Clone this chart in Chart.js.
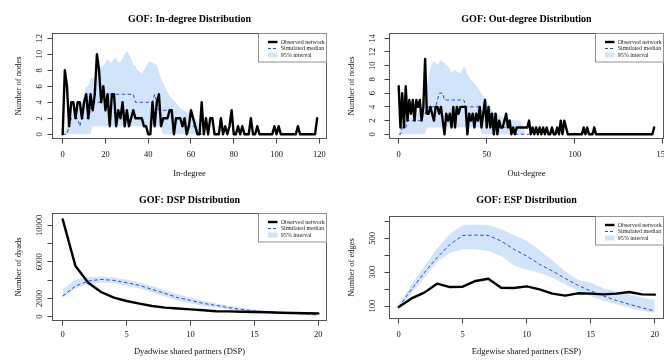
<!DOCTYPE html>
<html>
<head>
<meta charset="utf-8">
<script src="https://cdn.jsdelivr.net/npm/chart.js@4.4.1/dist/chart.umd.min.js"></script>
<style>
  body { margin: 0; background: #fff; }
  .panel { position: absolute; width: 332px; height: 181px; }
</style>
</head>
<body>
<div class="panel" style="left:0;top:0"><canvas id="inDegreeChart" width="332" height="181"></canvas></div>
<div class="panel" style="left:332px;top:0"><canvas id="outDegreeChart" width="332" height="181"></canvas></div>
<div class="panel" style="left:0;top:181px"><canvas id="dspChart" width="332" height="181"></canvas></div>
<div class="panel" style="left:332px;top:181px"><canvas id="espChart" width="332" height="181"></canvas></div>
<script>
// ---- in-degree (0..119) ----
const inDegreeObserved = [
  0, 8, 6, 1, 4, 4, 2, 4, 4, 2,   4, 5, 2, 5, 3, 5, 10, 8, 4, 6,
  3, 5, 1, 5, 5, 1, 3, 2, 4, 1,   3, 1, 2, 3, 2, 2, 2, 2, 1, 1,
  0, 0, 4, 1, 4, 5, 1, 2, 2, 2,   3, 3, 0, 2, 2, 2, 1, 2, 0, 1,
  3, 2, 1, 0, 0, 4, 0, 2, 0, 2,   2, 0, 0, 0, 2, 0, 1, 0, 1, 3,
  0, 0, 1, 0, 1, 0, 0, 0, 2, 0,   0, 1, 0, 0, 0, 0, 0, 0, 0, 1,
  0, 1, 0, 0, 0, 0, 0, 0, 0, 0,   1, 0, 0, 0, 0, 0, 0, 0, 0, 2
];
const inDegreeMedian = [
  0, 0, 0, 1, 2, 2, 2, 2, 1, 2,   2, 2, 2, 3, 4, 4, 4, 4, 4, 4,
  4, 5, 5, 5, 5, 5, 5, 5, 5, 5,   5, 5, 5, 5, 4, 4, 4, 4, 4, 4,
  4, 4, 4, 5, 4, 3, 3, 3, 3, 3,   3, 2, 2, 2, 2, 2, 1, 1, 1, 1,
  1, 1, 1, 0, 0, 0, 0
];
const inDegreeLow = [
  0, 0, 0, 0, 0, 0, 0, 0, 0, 0,   0, 0, 0, 0, 1, 1, 1, 1, 1, 1,
  1, 1, 1, 1, 1, 1, 1, 1, 1, 1,   1, 1, 1, 1, 1, 1, 1, 1, 1, 1,
  1, 1, 1, 1, 1, 1, 1, 0, 0, 0,   0, 0, 0, 0, 0, 0, 0, 0, 0, 0,
  0, 0, 0, 0, 0, 0, 0
];
const inDegreeHigh = [
  0, 0.5, 1, 2, 2, 3, 3, 4, 4, 4,   5, 6, 6, 7, 7, 7, 8, 8, 8.5, 8.5,
  9, 9.5, 9, 9, 9.5, 9.5, 9, 9, 9.5, 10,   10.4, 10, 9.5, 8.7, 8.5, 8, 7.8, 7.6, 8, 8.5,
  9, 9.1, 9, 8.8, 8.7, 7.8, 7, 6.4, 5.8, 5.3,   4.8, 4.5, 4.2, 3.9, 3.6, 3.3, 3.1, 2.9, 2.8, 2.7,
  2.6, 2.4, 2, 1.6, 1, 0.5, 0
];

// ---- out-degree (0..145) ----
const outDegreeObserved = [
  7, 1, 6, 1, 7, 2, 5, 3, 5, 2,   5, 4, 5, 2, 4, 11, 3, 3, 4, 3,
  2, 4, 4, 3, 4, 2, 0, 3, 2, 3,   1, 4, 1, 4, 3, 4, 4, 4, 4, 0,
  3, 2, 3, 1, 3, 2, 4, 1, 3, 5,   1, 4, 1, 3, 0, 3, 0, 2, 1, 1,
  2, 3, 1, 2, 0, 1, 0, 1, 1, 1,   1, 1, 1, 1, 2, 0, 1, 0, 1, 0,
  1, 0, 1, 0, 1, 0, 0, 1, 0, 0,   1, 0, 2, 0, 2, 1, 0, 0, 0, 0,
  0, 0, 0, 0, 0, 1, 0, 1, 0, 0,   0, 1, 0, 0, 0, 0, 0, 0, 0, 0,
  0, 0, 0, 0, 0, 0, 0, 0, 0, 0,   0, 0, 0, 0, 0, 0, 0, 0, 0, 0,
  0, 0, 0, 0, 0, 1
];
const outDegreeMedian = [
  0, 0, 1, 1, 1, 2, 2, 2, 2, 2,   2, 2, 2, 2, 3, 3, 4, 4, 4, 4,
  4, 4, 5, 6, 6, 6, 5, 5, 5, 5,   5, 5, 5, 5, 5, 5, 5, 5, 4, 4,
  4, 4, 4, 4, 4, 4, 4, 3, 3, 3,   3, 3, 3, 2, 2, 2, 1, 1, 1, 1,
  1, 1, 1, 1, 0, 0, 0, 0, 0, 0,   0, 0, 0, 0, 0
];
const outDegreeLow = [
  0, 0, 0, 0, 0, 0, 0, 0, 0, 0,   0, 0, 0, 0, 0, 0, 1, 1, 1, 1,
  1, 1, 1, 1, 1, 1, 1, 1, 1, 1,   1, 1, 1, 1, 1, 1, 1, 1, 1, 1,
  1, 1, 1, 1, 1, 1, 1, 0, 0, 0,   0, 0, 0, 0, 0, 0, 0, 0, 0, 0,
  0, 0, 0, 0, 0, 0, 0, 0, 0, 0,   0, 0, 0
];
const outDegreeHigh = [
  0, 1, 1.5, 1.8, 2, 2, 2.2, 2.4, 2.6, 2.8,   3, 3.2, 3.4, 3.5, 4, 5, 7, 8.4, 9.5, 10.4,
  10.6, 10.5, 10.1, 10.5, 10.8, 10.6, 10.4, 10.1, 9.9, 9.5,   9.1, 9.3, 9.4, 9.2, 9, 8.9, 9.3, 9.9, 9.5, 8.8,
  8.4, 8, 7.7, 7.4, 7.1, 6.7, 6.4, 6, 5.6, 5.25,   4.9, 4.5, 4, 3.5, 3.2, 3.1, 3, 2.8, 2.6, 2.4,
  2.3, 2.3, 2.2, 2.2, 2.1, 2.1, 2.1, 2, 2, 1.9,   1.8, 1, 0
];

// ---- dyadwise shared partners (0..20) ----
const dspObserved = [10650, 5540, 3720, 2700, 2080, 1720, 1430, 1170, 990, 900, 800, 700, 600, 580, 550, 520, 480, 440, 400, 380, 360];
const dspMedian = [2260, 3360, 3900, 4080, 3970, 3720, 3430, 2990, 2550, 2080, 1790, 1460, 1240, 990, 800, 620, 550, 440, 370, 300, 190];
const dspLow = [2050, 3100, 3550, 3750, 3650, 3400, 3100, 2650, 2200, 1750, 1480, 1180, 1000, 800, 630, 480, 430, 330, 260, 200, 100];
const dspHigh = [3000, 4100, 4350, 4400, 4300, 4050, 3750, 3350, 2900, 2450, 2100, 1750, 1450, 1200, 980, 780, 660, 560, 480, 400, 330];

// ---- edgewise shared partners (0..20) ----
const espObserved = [94, 145, 179, 232, 212, 214, 248, 261, 208, 206, 216, 198, 173, 161, 175, 173, 169, 173, 183, 169, 167];
const espMedian = [95, 198, 297, 386, 464, 517, 519, 517, 484, 435, 395, 346, 307, 263, 222, 189, 159, 133, 110, 90, 70];
const espLow = [85, 175, 265, 360, 415, 435, 435, 425, 395, 340, 315, 295, 267, 228, 189, 159, 130, 110, 90, 70, 60];
const espHigh = [112, 225, 335, 440, 525, 578, 582, 578, 555, 520, 484, 430, 370, 305, 255, 238, 205, 185, 170, 150, 135];

const inDegrees = Array.from({length: inDegreeObserved.length}, (_, i) => i);
const outDegrees = Array.from({length: outDegreeObserved.length}, (_, i) => i);
const partners = Array.from({length: 21}, (_, i) => i);

const inXTicks = [0, 20, 40, 60, 80, 100, 120];
const inYTicks = [0, 2, 4, 6, 8, 10, 12];
const outXTicks = [0, 50, 100, 150];
const outYTicks = [0, 2, 4, 6, 8, 10, 12, 14];
const spXTicks = [0, 5, 10, 15, 20];
const dspYTicks = [0, 2000, 4000, 6000, 8000, 10000];
const dspYLabels = [0, 2000, 6000, 10000];
const espYTicks = [100, 200, 300, 400, 500, 600];
const espYLabels = [100, 300, 500];

const legendLabels = ["Observed network", "Simulated median", "95% interval"];

const SERIF = '"Liberation Serif", "DejaVu Serif", serif';
const BAND = '#d2e4fa';
const MEDIAN = '#3048c0';
const AXIS_SIZE = 8.5;
const AXIS_LH = AXIS_SIZE * 1.2;
const TICK_LEN = 4.5;
const W = 332, H = 181;

const measureCtx = document.createElement('canvas').getContext('2d');
function textWidth(text, size) {
  measureCtx.font = size + 'px ' + SERIF;
  return measureCtx.measureText(text).width;
}

function toPoints(xs, ys) {
  return ys.map((y, i) => ({x: xs[i], y: y}));
}

// box around the plot region + the R style legend in the top right corner
const rFrame = {
  id: 'rFrame',
  afterDraw(chart) {
    const {ctx, chartArea: a} = chart;
    ctx.save();
    ctx.strokeStyle = '#555';
    ctx.lineWidth = 1;
    ctx.strokeRect(Math.round(a.left) + 0.5, Math.round(a.top) + 0.5,
      Math.round(a.right - a.left) - 1, Math.round(a.bottom - a.top) - 1);

    const w = 69, h = 29.5;
    const x0 = Math.round(a.right - w), y0 = Math.round(a.top);
    ctx.fillStyle = '#fff';
    ctx.fillRect(x0, y0, w, h);
    ctx.strokeStyle = '#777';
    ctx.lineWidth = 0.8;
    ctx.strokeRect(x0 + 0.5, y0 + 0.5, w - 1, h - 1);

    const rows = [y0 + 9, y0 + 15.5, y0 + 22];
    ctx.lineWidth = 2.4;
    ctx.strokeStyle = '#000';
    ctx.beginPath(); ctx.moveTo(x0 + 10, rows[0]); ctx.lineTo(x0 + 19.5, rows[0]); ctx.stroke();
    ctx.lineWidth = 1;
    ctx.strokeStyle = MEDIAN;
    ctx.setLineDash([3, 2]);
    ctx.beginPath(); ctx.moveTo(x0 + 10, rows[1]); ctx.lineTo(x0 + 19.5, rows[1]); ctx.stroke();
    ctx.setLineDash([]);
    ctx.fillStyle = BAND;
    ctx.fillRect(x0 + 10, rows[2] - 2.5, 9.5, 5);

    ctx.fillStyle = '#222';
    ctx.font = '6px ' + SERIF;
    ctx.textBaseline = 'middle';
    ctx.textAlign = 'left';
    legendLabels.forEach((t, i) => ctx.fillText(t, x0 + 22.7, rows[i]));
    ctx.restore();
  }
};

function drawPanel(id, p) {
  const box = p.box;
  const widest = Math.max(...p.yLabels.map(v => textWidth(String(v), AXIS_SIZE)));
  const yPad = (box.left - p.yLabelX) - TICK_LEN - widest / 2;
  const xPad = p.xLabelY - box.bottom - TICK_LEN - AXIS_LH / 2;

  const tickGrid = {display: true, drawOnChartArea: false, drawTicks: true, tickLength: TICK_LEN, color: '#444', lineWidth: 1};
  const tickFont = {family: SERIF, size: AXIS_SIZE};

  return new Chart(document.getElementById(id), {
    type: 'line',
    data: {
      datasets: [
        {label: legendLabels[0], data: toPoints(p.xs, p.obs), borderColor: '#000', borderWidth: 2.4,
          borderJoinStyle: 'round', borderCapStyle: 'round', pointRadius: 0, fill: false},
        {label: legendLabels[1], data: toPoints(p.xs, p.med), borderColor: MEDIAN, borderWidth: 1,
          borderDash: [3.5, 2.5], pointRadius: 0, fill: false},
        {label: legendLabels[2], data: toPoints(p.xs, p.hi), borderColor: 'rgba(0,0,0,0)', borderWidth: 0,
          backgroundColor: BAND, pointRadius: 0, fill: '+1'},
        {label: 'lower', data: toPoints(p.xs, p.lo), borderColor: 'rgba(0,0,0,0)', borderWidth: 0,
          pointRadius: 0, fill: false}
      ]
    },
    options: {
      responsive: false,
      animation: false,
      devicePixelRatio: 1,
      layout: {padding: {left: 0, right: W - box.right, top: 0, bottom: 0}, autoPadding: false},
      plugins: {
        legend: {display: false},
        tooltip: {enabled: false},
        title: {
          display: true, text: p.title, fullSize: false, color: '#000',
          font: {family: SERIF, size: 10, weight: 'bold'},
          padding: {top: p.titleY - 6, bottom: box.top - p.titleY - 6}
        }
      },
      scales: {
        x: {
          type: 'linear', min: p.xRange[0], max: p.xRange[1],
          afterBuildTicks: s => { s.ticks = p.xTicks.map(v => ({value: v})); },
          afterFit: s => { s.height = H - box.bottom; s.paddingLeft = 0; s.paddingRight = 0; },
          grid: tickGrid,
          border: {display: false},
          ticks: {autoSkip: false, maxRotation: 0, padding: xPad, color: '#111', font: tickFont,
            callback: v => String(v)},
          title: {display: true, text: p.xTitle, color: '#111', font: tickFont,
            padding: {top: 0, bottom: H - p.xTitleY - AXIS_LH / 2}}
        },
        y: {
          type: 'linear', min: p.yRange[0], max: p.yRange[1],
          afterBuildTicks: s => { s.ticks = p.yTicks.map(v => ({value: v})); },
          afterFit: s => { s.width = box.left; s.paddingTop = 0; s.paddingBottom = 0; },
          grid: tickGrid,
          border: {display: false},
          ticks: {autoSkip: false, minRotation: 90, maxRotation: 90, crossAlign: 'center', padding: yPad,
            color: '#111', font: tickFont,
            callback: v => p.yLabels.includes(v) ? String(v) : ''},
          title: {display: true, text: p.yTitle, color: '#111', font: tickFont,
            padding: {top: p.yTitleX - AXIS_LH / 2, bottom: 0}}
        }
      }
    },
    plugins: [rFrame]
  });
}

window.addEventListener('load', () => {
  drawPanel('inDegreeChart', {
    title: 'GOF: In-degree Distribution', xTitle: 'In-degree', yTitle: 'Number of nodes',
    xs: inDegrees, obs: inDegreeObserved, med: inDegreeMedian, lo: inDegreeLow, hi: inDegreeHigh,
    xRange: [-5.0, 123.6], yRange: [-0.59, 12.66], xTicks: inXTicks, yTicks: inYTicks, yLabels: inYTicks,
    box: {left: 52, right: 327, top: 33, bottom: 139},
    titleY: 19, yLabelX: 39.3, yTitleX: 18.3, xLabelY: 155, xTitleY: 174
  });
  drawPanel('outDegreeChart', {
    title: 'GOF: Out-degree Distribution', xTitle: 'Out-degree', yTitle: 'Number of nodes',
    xs: outDegrees, obs: outDegreeObserved, med: outDegreeMedian, lo: outDegreeLow, hi: outDegreeHigh,
    xRange: [-5.5, 150.6], yRange: [-0.685, 14.77], xTicks: outXTicks, yTicks: outYTicks, yLabels: outYTicks,
    box: {left: 57, right: 332, top: 33, bottom: 139},
    titleY: 19, yLabelX: 41, yTitleX: 20, xLabelY: 155, xTitleY: 174
  });
  drawPanel('dspChart', {
    title: 'GOF: DSP Distribution', xTitle: 'Dyadwise shared partners (DSP)', yTitle: 'Number of dyads',
    xs: partners, obs: dspObserved, med: dspMedian, lo: dspLow, hi: dspHigh,
    xRange: [-0.837, 20.68], yRange: [-470, 11346], xTicks: spXTicks, yTicks: dspYTicks, yLabels: dspYLabels,
    box: {left: 52, right: 327, top: 32, bottom: 140},
    titleY: 19, yLabelX: 39.3, yTitleX: 18.3, xLabelY: 154, xTitleY: 171
  });
  drawPanel('espChart', {
    title: 'GOF: ESP Distribution', xTitle: 'Edgewise shared partners (ESP)', yTitle: 'Number of edges',
    xs: partners, obs: espObserved, med: espMedian, lo: espLow, hi: espHigh,
    xRange: [-0.758, 20.72], yRange: [23.2, 631.8], xTicks: spXTicks, yTicks: espYTicks, yLabels: espYLabels,
    box: {left: 57, right: 332, top: 35, bottom: 138},
    titleY: 19, yLabelX: 41, yTitleX: 20, xLabelY: 154, xTitleY: 171
  });
});
</script>
</body>
</html>
